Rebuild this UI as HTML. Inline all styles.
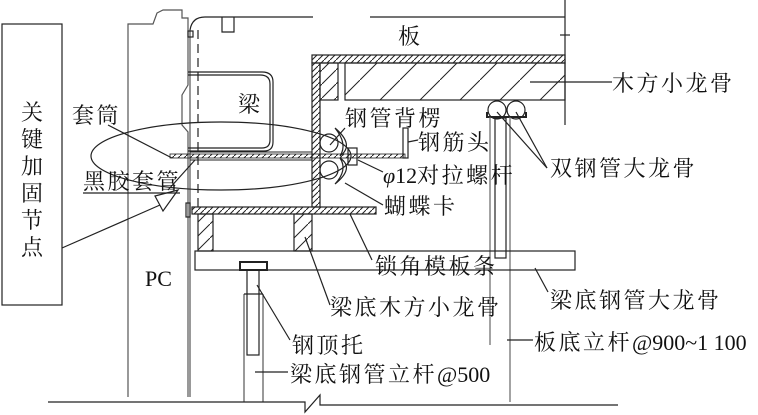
<!DOCTYPE html>
<html><head><meta charset="utf-8"><style>
html,body{margin:0;padding:0;background:#fff;}
svg{display:block;}
text{font-family:"Liberation Serif","Noto Serif CJK SC",serif;fill:#111;font-size:22px;letter-spacing:2.5px;}
.l{letter-spacing:0;font-family:"Liberation Serif",serif;}
</style></head><body>
<svg width="758" height="415" viewBox="0 0 758 415" xmlns="http://www.w3.org/2000/svg">
<defs>
<pattern id="h" width="6" height="6" patternUnits="userSpaceOnUse">
<line x1="0" y1="6" x2="6" y2="0" stroke="#222" stroke-width="1"/>
</pattern>
<pattern id="h2" width="14" height="14" patternUnits="userSpaceOnUse">
<line x1="0" y1="14" x2="14" y2="0" stroke="#222" stroke-width="1"/>
</pattern>
<pattern id="h3" width="40" height="40" patternUnits="userSpaceOnUse">
<line x1="0" y1="40" x2="40" y2="0" stroke="#222" stroke-width="1"/>
</pattern>
</defs>
<g fill="none" stroke="#222" stroke-width="1.2">
<rect x="2" y="24" width="60" height="281"/>
<polyline points="128,397 128,24 153,24 157,13 163,10 182,10 182,18 188,18 188,85 182,95 182,125 188,132 188,397" stroke="#555"/>
<line x1="190" y1="30" x2="190" y2="397" stroke="#555"/>
<path d="M190,30 Q192,17 205,17 L313,17 M370,17 L565,17"/>
<line x1="565" y1="0" x2="565" y2="125"/>
<line x1="560" y1="35" x2="570" y2="35"/>
<path d="M222,17 V32 H234 V17"/>
<rect x="188" y="31" width="5" height="6"/>
<line x1="198" y1="30" x2="198" y2="210" stroke-dasharray="9,5"/>
<path d="M188,72 H262 Q273,72 273,82 V142 Q273,151 264,151 H188" />
<path d="M188,75 H260 Q270,75 270,84 V140 Q270,148 262,148 H188" />
<rect x="312" y="55" width="253" height="8" fill="url(#h)"/>
<rect x="312" y="63" width="8" height="144" fill="url(#h)"/>
<rect x="320" y="63" width="18" height="37" fill="url(#h2)"/>
<rect x="345" y="63" width="220" height="37" fill="url(#h3)"/>
<circle cx="497" cy="110" r="9"/>
<circle cx="516" cy="110" r="9"/>
<path d="M487,112 V117 H526 V112" stroke-width="2"/>
<line x1="490" y1="117" x2="490" y2="345" stroke="#666"/>
<line x1="510" y1="117" x2="510" y2="402" stroke="#666"/>
<rect x="495" y="118" width="11" height="140"/>
<rect x="170" y="154" width="235" height="4" fill="url(#h)" stroke-width="0.8"/>
<line x1="190" y1="152" x2="312" y2="152" stroke-width="1"/>
<line x1="190" y1="160" x2="312" y2="160" stroke-width="1"/>
<rect x="403" y="128" width="5" height="30"/>
<circle cx="329" cy="143" r="9"/>
<circle cx="329" cy="170" r="9"/>
<path d="M335,128 Q355,145 340,156 Q348,144 335,128"/>
<path d="M335,184 Q355,168 340,158 Q348,170 335,184"/>
<rect x="348" y="148" width="9" height="17"/>
<ellipse cx="221" cy="156" rx="130" ry="34"/>
<rect x="192" y="207" width="184" height="7" fill="url(#h)"/>
<rect x="186" y="203" width="4" height="14"/>
<rect x="198" y="214" width="15" height="37" fill="url(#h2)"/>
<rect x="294" y="214" width="18" height="37" fill="url(#h2)"/>
<rect x="195" y="251" width="380" height="19"/>
<rect x="240" y="262" width="27" height="8" stroke-width="2"/>
<rect x="247" y="270" width="12" height="85"/>
<line x1="244" y1="294" x2="244" y2="402" stroke="#555"/>
<line x1="263" y1="294" x2="263" y2="402" stroke="#555"/>
<line x1="244" y1="294" x2="263" y2="294"/>
<polyline points="48,402 305,402 305,412 320,395 320,405 618,405"/>
<polygon points="155,196 178,190 163,211"/>
<line x1="62" y1="248" x2="160" y2="205"/>
<line x1="108" y1="125" x2="172" y2="158"/>
<line x1="83" y1="193" x2="180" y2="193"/>
<line x1="168" y1="190" x2="195" y2="160"/>
<line x1="530" y1="82" x2="612" y2="82"/>
<line x1="345" y1="128" x2="330" y2="145"/>
<line x1="408" y1="142" x2="418" y2="140"/>
<line x1="358" y1="160" x2="383" y2="172"/>
<line x1="345" y1="183" x2="383" y2="205"/>
<line x1="497" y1="112" x2="547" y2="168"/>
<line x1="516" y1="112" x2="547" y2="168"/>
<line x1="350" y1="214" x2="372" y2="260"/>
<line x1="305" y1="237" x2="330" y2="305"/>
<line x1="535" y1="268" x2="548" y2="292"/>
<line x1="257" y1="285" x2="290" y2="340"/>
<line x1="255" y1="372" x2="288" y2="372"/>
<line x1="507" y1="340" x2="533" y2="340"/>
</g>
<g>
<text x="21" y="120">关</text>
<text x="21" y="147">键</text>
<text x="21" y="174">加</text>
<text x="21" y="201">固</text>
<text x="21" y="228">节</text>
<text x="21" y="255">点</text>
<text x="398" y="44">板</text>
<text x="612" y="91">木方小龙骨</text>
<text x="238" y="112">梁</text>
<text x="345" y="126">钢管背楞</text>
<text x="418" y="150">钢筋头</text>
<text x="383" y="183"><tspan class="l" font-style="italic">φ</tspan><tspan class="l">12</tspan>对拉螺杆</text>
<text x="384" y="214">蝴蝶卡</text>
<text x="550" y="176">双钢管大龙骨</text>
<text x="72" y="123">套筒</text>
<text x="83" y="189">黑胶套管</text>
<text x="145" y="286" class="l">PC</text>
<text x="375" y="274">锁角模板条</text>
<text x="330" y="315">梁底木方小龙骨</text>
<text x="550" y="308">梁底钢管大龙骨</text>
<text x="292" y="353">钢顶托</text>
<text x="290" y="382">梁底钢管立杆<tspan class="l">@500</tspan></text>
<text x="534" y="350">板底立杆<tspan class="l">@900~1 100</tspan></text>
</g>
</svg>
</body></html>
